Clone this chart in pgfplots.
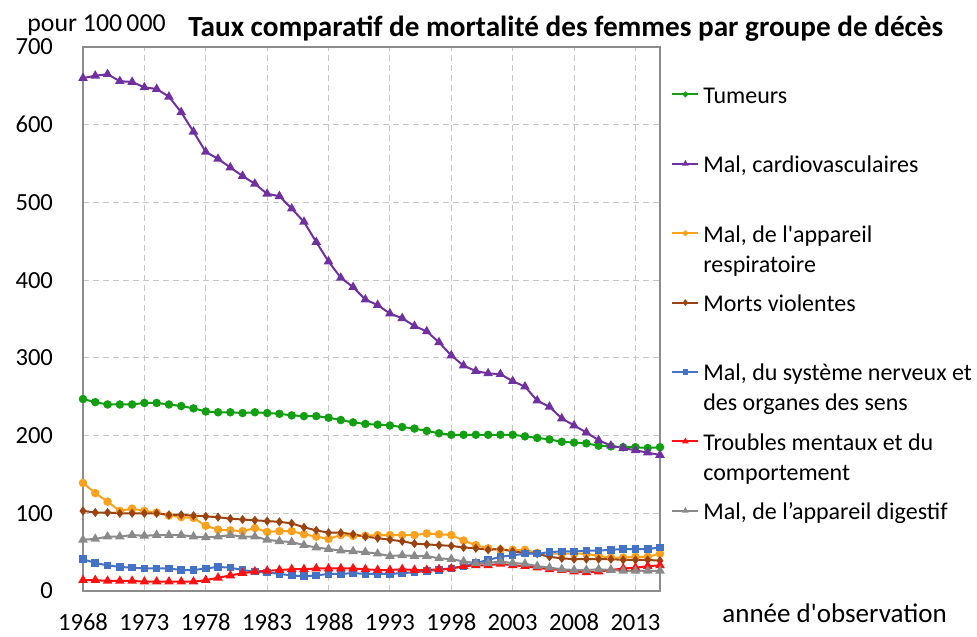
\documentclass[border=0pt]{standalone}
\usepackage{fontspec}
\setmainfont{Carlito}
\usepackage{pgfplots}
\pgfplotsset{compat=1.18}
\definecolor{cgreen}{HTML}{12A012}
\definecolor{cpurple}{HTML}{7030A0}
\definecolor{corange}{HTML}{FAA21E}
\definecolor{cbrown}{HTML}{9A4210}
\definecolor{cblue}{HTML}{4472C4}
\definecolor{cred}{HTML}{FF1010}
\definecolor{cgray}{HTML}{8A8A8A}
\newcommand\LE[1]{\parbox[t]{150pt}{\strut #1\strut}}
\begin{document}
\begin{tikzpicture}
\begin{axis}[
  scale only axis, width=288.5pt, height=272pt,
  xmin=1968, xmax=2015, ymin=0, ymax=700,
  xtick={1968,1973,...,2013}, ytick={0,100,...,700},
  /pgf/number format/assume math mode=true,
  xticklabel={\pgfmathprintnumber[1000 sep={}]{\tick}},
  ticklabel style={font=\fontsize{12.3}{14}\selectfont},
  yticklabel style={xshift=-11.5pt},
  xticklabel style={yshift=-8pt},
  major tick length=0pt,
  grid=major,
  major grid style={gray!45, dash pattern=on 3pt off 2pt, line width=0.5pt},
  axis line style={draw=gray!90, line width=0.7pt},
  every axis plot/.append style={line width=1pt},
  clip=false,
  legend cell align=left,
  legend style={draw=none, fill=none, inner sep=0pt, at={(1.019,0.944)}, anchor=north west,
    font=\fontsize{12}{15}\selectfont, row sep=18.2pt, nodes={inner ysep=2.25pt}},
  legend image code/.code={\draw[#1, mark repeat=2, mark phase=2] plot coordinates {(0pt,0pt)(6.5pt,0pt)(13pt,0pt)};},
  legend image post style={mark size=0.9pt},
]
\addplot[color=cgreen, mark=*, mark size=1.6pt] coordinates {
(1968,247)(1969,243)(1970,240)(1971,240)(1972,240)(1973,242)(1974,242)(1975,240)(1976,238)(1977,235)
(1978,231)(1979,230)(1980,230)(1981,229)(1982,230)(1983,229)(1984,228)(1985,226)(1986,225)(1987,225)
(1988,223)(1989,220)(1990,217)(1991,215)(1992,214)(1993,213)(1994,211)(1995,209)(1996,206)(1997,203)
(1998,201)(1999,201)(2000,201)(2001,201)(2002,201)(2003,201)(2004,199)(2005,197)(2006,195)(2007,192)
(2008,191)(2009,190)(2010,187)(2011,186)(2012,185)(2013,185)(2014,184)(2015,185)};
\addlegendentry{\LE{Tumeurs}}
\addplot[color=cpurple, mark=triangle*, mark size=1.8pt] coordinates {
(1968,660)(1969,663)(1970,665)(1971,656)(1972,655)(1973,648)(1974,646)(1975,636)(1976,616)(1977,591)
(1978,565)(1979,556)(1980,545)(1981,534)(1982,524)(1983,511)(1984,508)(1985,492)(1986,475)(1987,449)
(1988,424)(1989,403)(1990,391)(1991,375)(1992,368)(1993,357)(1994,351)(1995,341)(1996,334)(1997,320)
(1998,303)(1999,290)(2000,283)(2001,280)(2002,279)(2003,270)(2004,263)(2005,245)(2006,237)(2007,222)
(2008,213)(2009,204)(2010,194)(2011,187)(2012,184)(2013,181)(2014,178)(2015,175)};
\addlegendentry{\LE{Mal, cardiovasculaires}}
\addplot[color=corange, mark=*, mark size=1.6pt] coordinates {
(1968,139)(1969,126)(1970,115)(1971,103)(1972,106)(1973,103)(1974,101)(1975,97)(1976,95)(1977,94)
(1978,84)(1979,79)(1980,78)(1981,77)(1982,81)(1983,76)(1984,77)(1985,77)(1986,73)(1987,70)
(1988,67)(1989,72)(1990,71)(1991,71)(1992,72)(1993,72)(1994,72)(1995,72)(1996,74)(1997,73)
(1998,72)(1999,65)(2000,59)(2001,55)(2002,53)(2003,53)(2004,53)(2005,49)(2006,48)(2007,48)
(2008,48)(2009,48)(2010,45)(2011,43)(2012,43)(2013,44)(2014,44)(2015,48)};
\addlegendentry{\LE{Mal, de l\textquotesingle appareil\\respiratoire}}
\addplot[color=cbrown, mark=diamond*, mark size=1.5pt] coordinates {
(1968,103)(1969,101)(1970,101)(1971,100)(1972,100)(1973,100)(1974,100)(1975,98)(1976,98)(1977,97)
(1978,96)(1979,95)(1980,93)(1981,92)(1982,91)(1983,90)(1984,89)(1985,87)(1986,82)(1987,78)
(1988,75)(1989,75)(1990,73)(1991,70)(1992,68)(1993,66)(1994,64)(1995,61)(1996,60)(1997,59)
(1998,58)(1999,56)(2000,55)(2001,53)(2002,54)(2003,51)(2004,49)(2005,48)(2006,44)(2007,42)
(2008,41)(2009,41)(2010,41)(2011,41)(2012,40)(2013,40)(2014,40)(2015,39)};
\addlegendentry{\LE{Morts violentes}}
\addplot[color=cblue, mark=square*, mark size=1.4pt] coordinates {
(1968,41)(1969,36)(1970,33)(1971,31)(1972,30)(1973,29)(1974,29)(1975,29)(1976,27)(1977,27)
(1978,29)(1979,31)(1980,30)(1981,27)(1982,25)(1983,24)(1984,22)(1985,20)(1986,19)(1987,20)
(1988,22)(1989,22)(1990,23)(1991,22)(1992,22)(1993,22)(1994,23)(1995,24)(1996,26)(1997,27)
(1998,29)(1999,32)(2000,36)(2001,40)(2002,44)(2003,46)(2004,48)(2005,48)(2006,50)(2007,51)
(2008,51)(2009,52)(2010,52)(2011,53)(2012,54)(2013,54)(2014,54)(2015,56)};
\addlegendentry{\LE{Mal, du système nerveux et\\des organes des sens}}
\addplot[color=cred, mark=triangle*, mark size=1.8pt] coordinates {
(1968,14)(1969,14)(1970,13)(1971,13)(1972,13)(1973,12)(1974,12)(1975,12)(1976,12)(1977,12)
(1978,14)(1979,17)(1980,20)(1981,23)(1982,25)(1983,26)(1984,27)(1985,28)(1986,28)(1987,29)
(1988,29)(1989,29)(1990,29)(1991,28)(1992,27)(1993,27)(1994,28)(1995,27)(1996,27)(1997,28)
(1998,29)(1999,32)(2000,33)(2001,33)(2002,35)(2003,33)(2004,32)(2005,30)(2006,28)(2007,27)
(2008,25)(2009,24)(2010,25)(2011,27)(2012,29)(2013,30)(2014,32)(2015,33)};
\addlegendentry{\LE{Troubles mentaux et du\\comportement}}
\addplot[color=cgray, mark=triangle*, mark size=1.8pt] coordinates {
(1968,66)(1969,67)(1970,70)(1971,70)(1972,72)(1973,71)(1974,72)(1975,72)(1976,72)(1977,70)
(1978,69)(1979,70)(1980,72)(1981,70)(1982,70)(1983,66)(1984,64)(1985,63)(1986,59)(1987,56)
(1988,54)(1989,52)(1990,51)(1991,50)(1992,48)(1993,45)(1994,46)(1995,45)(1996,45)(1997,42)
(1998,41)(1999,38)(2000,36)(2001,36)(2002,38)(2003,36)(2004,35)(2005,32)(2006,30)(2007,28)
(2008,27)(2009,27)(2010,28)(2011,27)(2012,26)(2013,26)(2014,26)(2015,26)};
\addlegendentry{\LE{Mal, de l’appareil digestif}}
\end{axis}
\node[anchor=west, font=\fontsize{12.9}{14}\selectfont, inner sep=0pt] at (-28pt,283pt) {pour 100\,000};
\node[anchor=west, font=\fontsize{14.6}{16}\selectfont\bfseries, inner sep=0pt] at (52.5pt,281pt) {Taux comparatif de mortalité des femmes par groupe de décès};
\node[anchor=west, font=\fontsize{13.5}{15}\selectfont, inner sep=0pt] at (319.5pt,-11pt) {année d\textquotesingle observation};
\pgfresetboundingbox
\path (-41.5pt,-22.5pt) rectangle (447pt,295.5pt);
\end{tikzpicture}
\end{document}
